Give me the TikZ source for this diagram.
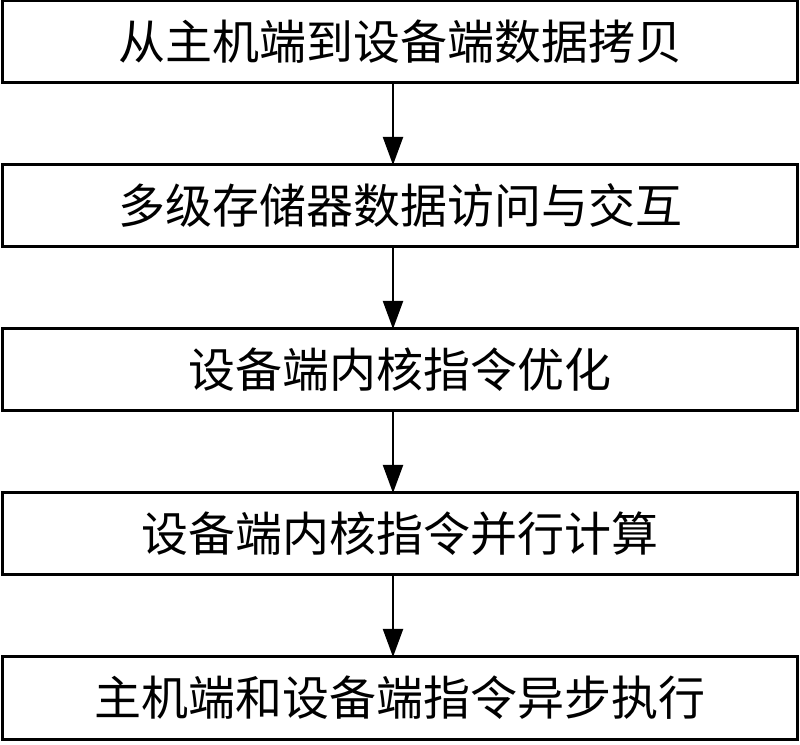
\documentclass[tikz,border=0pt]{standalone}
\usepackage{fontspec}
\newfontfamily\cjk{Noto Sans CJK SC}
\usetikzlibrary{positioning, arrows.meta}
\tikzset{
    block/.style={
        draw, line width = 3pt,
        minimum width = 795pt,
        minimum height = 82pt,
        inner sep = 0pt, outer sep = 0pt,
        align = center,
        font = \cjk\fontsize{47}{52}\selectfont
    },
    every node/.style = {node distance=82pt},
    line/.style = {line width = 2pt, -{Triangle[length=28pt, width=20pt]}}
}
\begin{document}
\begin{tikzpicture}[x=1pt, y=1pt]
    \useasboundingbox (0,0) rectangle (800,744);

    % Blocks
    \node[block] (copy) at (400,702) {从主机端到设备端数据拷贝};
    \node[block, below = of copy] (memory) {多级存储器数据访问与交互};
    \node[block, below = of memory] (optim) {设备端内核指令优化};
    \node[block, below = of optim] (parallel) {设备端内核指令并行计算};
    \node[block, below = of parallel] (async) {主机端和设备端指令异步执行};

    % Lines
    \draw[line] ([xshift=-7pt]copy.south) -- ([xshift=-7pt]memory.north);
    \draw[line] ([xshift=-7pt]memory.south) -- ([xshift=-7pt]optim.north);
    \draw[line] ([xshift=-7pt]optim.south) -- ([xshift=-7pt]parallel.north);
    \draw[line] ([xshift=-7pt]parallel.south) -- ([xshift=-7pt]async.north);

\end{tikzpicture}
\end{document}
